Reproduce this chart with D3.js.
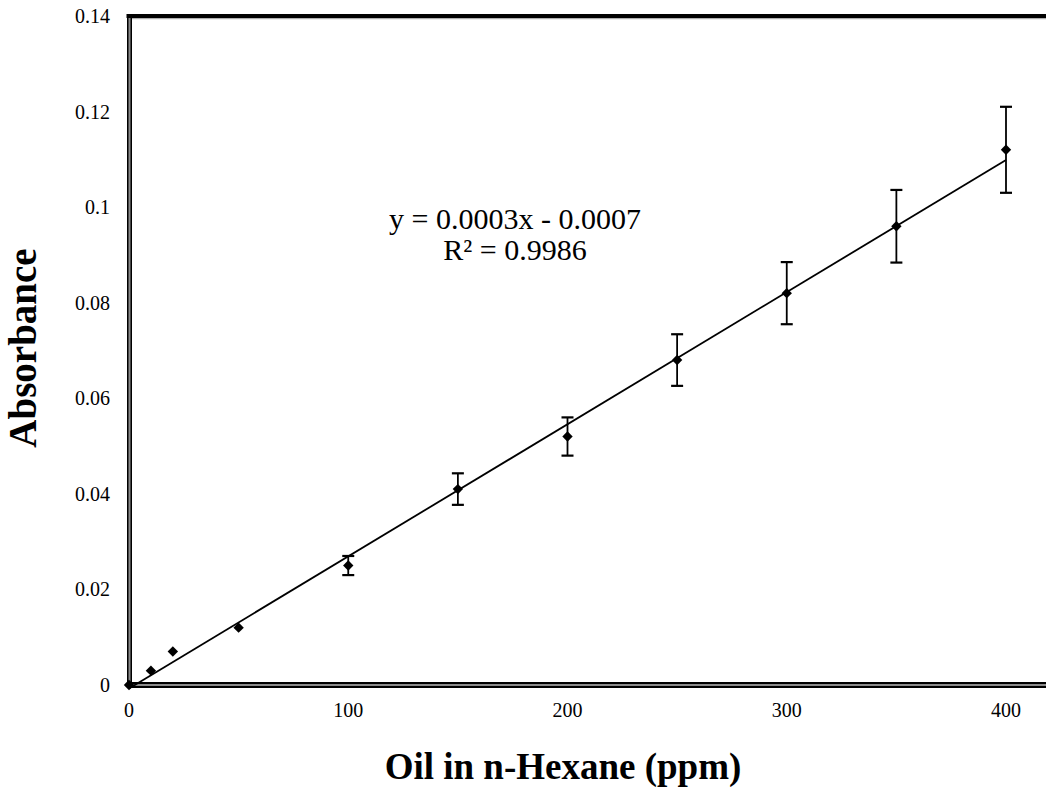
<!DOCTYPE html>
<html>
<head>
<meta charset="utf-8">
<script src="https://cdn.jsdelivr.net/npm/d3@7"></script>
<style>
  html, body { margin: 0; padding: 0; background: #fff; }
  svg { display: block; }
  text { font-family: "Liberation Serif", "Times New Roman", serif; fill: #000; }
</style>
</head>
<body>
<svg id="chart" width="1046" height="787"></svg>
<script>
// Calibration data: oil concentration vs absorbance
const concentration = [0, 10, 20, 50, 100, 150, 200, 250, 300, 350, 400];
const absorbance = [0, 0.003, 0.007, 0.012, 0.025, 0.041, 0.052, 0.068, 0.082, 0.096, 0.112];
const absorbanceError = [0, 0, 0, 0, 0.002, 0.0033, 0.004, 0.0054, 0.0065, 0.0076, 0.009];

const xTickValues = [0, 100, 200, 300, 400];
const xTickLabels = ["0", "100", "200", "300", "400"];
const yTickValues = [0, 0.02, 0.04, 0.06, 0.08, 0.1, 0.12, 0.14];
const yTickLabels = ["0", "0.02", "0.04", "0.06", "0.08", "0.1", "0.12", "0.14"];

const equationLines = ["y = 0.0003x - 0.0007", "R\u00B2 = 0.9986"];
const xTitle = "Oil in n-Hexane (ppm)";
const yTitle = "Absorbance";

const W = 1046, H = 787;
const svg = d3.select("#chart");

const x = d3.scaleLinear().domain([0, 400]).range([129, 1006]);
const y = d3.scaleLinear().domain([0, 0.14]).range([685, 16]);

// Least-squares linear trendline
const n = concentration.length;
const mx = d3.mean(concentration), my = d3.mean(absorbance);
let sxy = 0, sxx = 0;
for (let i = 0; i < n; i++) {
  sxy += (concentration[i] - mx) * (absorbance[i] - my);
  sxx += (concentration[i] - mx) ** 2;
}
const slope = sxy / sxx;
const intercept = my - slope * mx;
const xMin = d3.min(concentration), xMax = d3.max(concentration);

// Plot frame: double-line left and bottom axes, heavy top edge
const frame = svg.append("g");
frame.append("line").attr("x1", x(0)).attr("x2", W).attr("y1", y(0)).attr("y2", y(0))
  .attr("stroke", "#000").attr("stroke-width", 6);
frame.append("line").attr("x1", x(0)).attr("x2", W).attr("y1", y(0)).attr("y2", y(0))
  .attr("stroke", "#8a8a8a").attr("stroke-width", 2.2);
frame.append("line").attr("x1", x(0) - 2.5).attr("x2", W).attr("y1", y(0.14)).attr("y2", y(0.14))
  .attr("stroke", "#000").attr("stroke-width", 4.2);
frame.append("line").attr("x1", x(0) + 2).attr("x2", W).attr("y1", y(0.14) + 2.7).attr("y2", y(0.14) + 2.7)
  .attr("stroke", "#9a9a9a").attr("stroke-width", 1);
frame.append("line").attr("x1", x(0) + 0.5).attr("x2", x(0) + 0.5).attr("y1", y(0.14) - 2).attr("y2", y(0) + 3)
  .attr("stroke", "#000").attr("stroke-width", 5);
frame.append("line").attr("x1", x(0) + 0.5).attr("x2", x(0) + 0.5).attr("y1", y(0.14) + 2).attr("y2", y(0) - 1)
  .attr("stroke", "#8a8a8a").attr("stroke-width", 2);

// Tick labels
svg.append("g").selectAll("text").data(yTickValues).join("text")
  .attr("x", 110).attr("y", d => y(d)).attr("dy", "0.35em")
  .attr("text-anchor", "end").attr("font-size", 20)
  .text((d, i) => yTickLabels[i]);

svg.append("g").selectAll("text").data(xTickValues).join("text")
  .attr("x", d => x(d)).attr("y", 717)
  .attr("text-anchor", "middle").attr("font-size", 20)
  .text((d, i) => xTickLabels[i]);

// Trendline
svg.append("line")
  .attr("x1", x(xMin)).attr("y1", y(slope * xMin + intercept))
  .attr("x2", x(xMax)).attr("y2", y(slope * xMax + intercept))
  .attr("stroke", "#000").attr("stroke-width", 1.8);

// Error bars
const points = concentration.map((c, i) => ({ c, a: absorbance[i], e: absorbanceError[i] }));
const eb = svg.append("g").attr("stroke", "#000").attr("stroke-width", 1.8);
points.filter(d => d.e > 0).forEach(d => {
  eb.append("line").attr("x1", x(d.c)).attr("x2", x(d.c)).attr("y1", y(d.a + d.e)).attr("y2", y(d.a - d.e));
  [d.a + d.e, d.a - d.e].forEach(v => {
    eb.append("line").attr("x1", x(d.c) - 6).attr("x2", x(d.c) + 6).attr("y1", y(v)).attr("y2", y(v))
      .attr("stroke-width", 2.2);
  });
});

// Diamond markers
const diamond = d3.symbol().type(d3.symbolSquare).size(54);
svg.append("g").selectAll("path").data(points).join("path")
  .attr("d", diamond)
  .attr("transform", d => `translate(${x(d.c)},${y(d.a)}) rotate(45)`)
  .attr("fill", "#000");

// Trendline equation
const eq = svg.append("text").attr("text-anchor", "middle").attr("font-size", 30);
eq.append("tspan").attr("x", 515).attr("y", 229).text(equationLines[0]);
eq.append("tspan").attr("x", 515).attr("y", 260).text(equationLines[1]);

// Axis titles
svg.append("text")
  .attr("transform", "translate(36,348) rotate(-90)")
  .attr("text-anchor", "middle").attr("font-size", 39).attr("font-weight", "bold")
  .text(yTitle);

svg.append("text")
  .attr("x", 563).attr("y", 779)
  .attr("text-anchor", "middle").attr("font-size", 37).attr("font-weight", "bold")
  .text(xTitle);
</script>
</body>
</html>
